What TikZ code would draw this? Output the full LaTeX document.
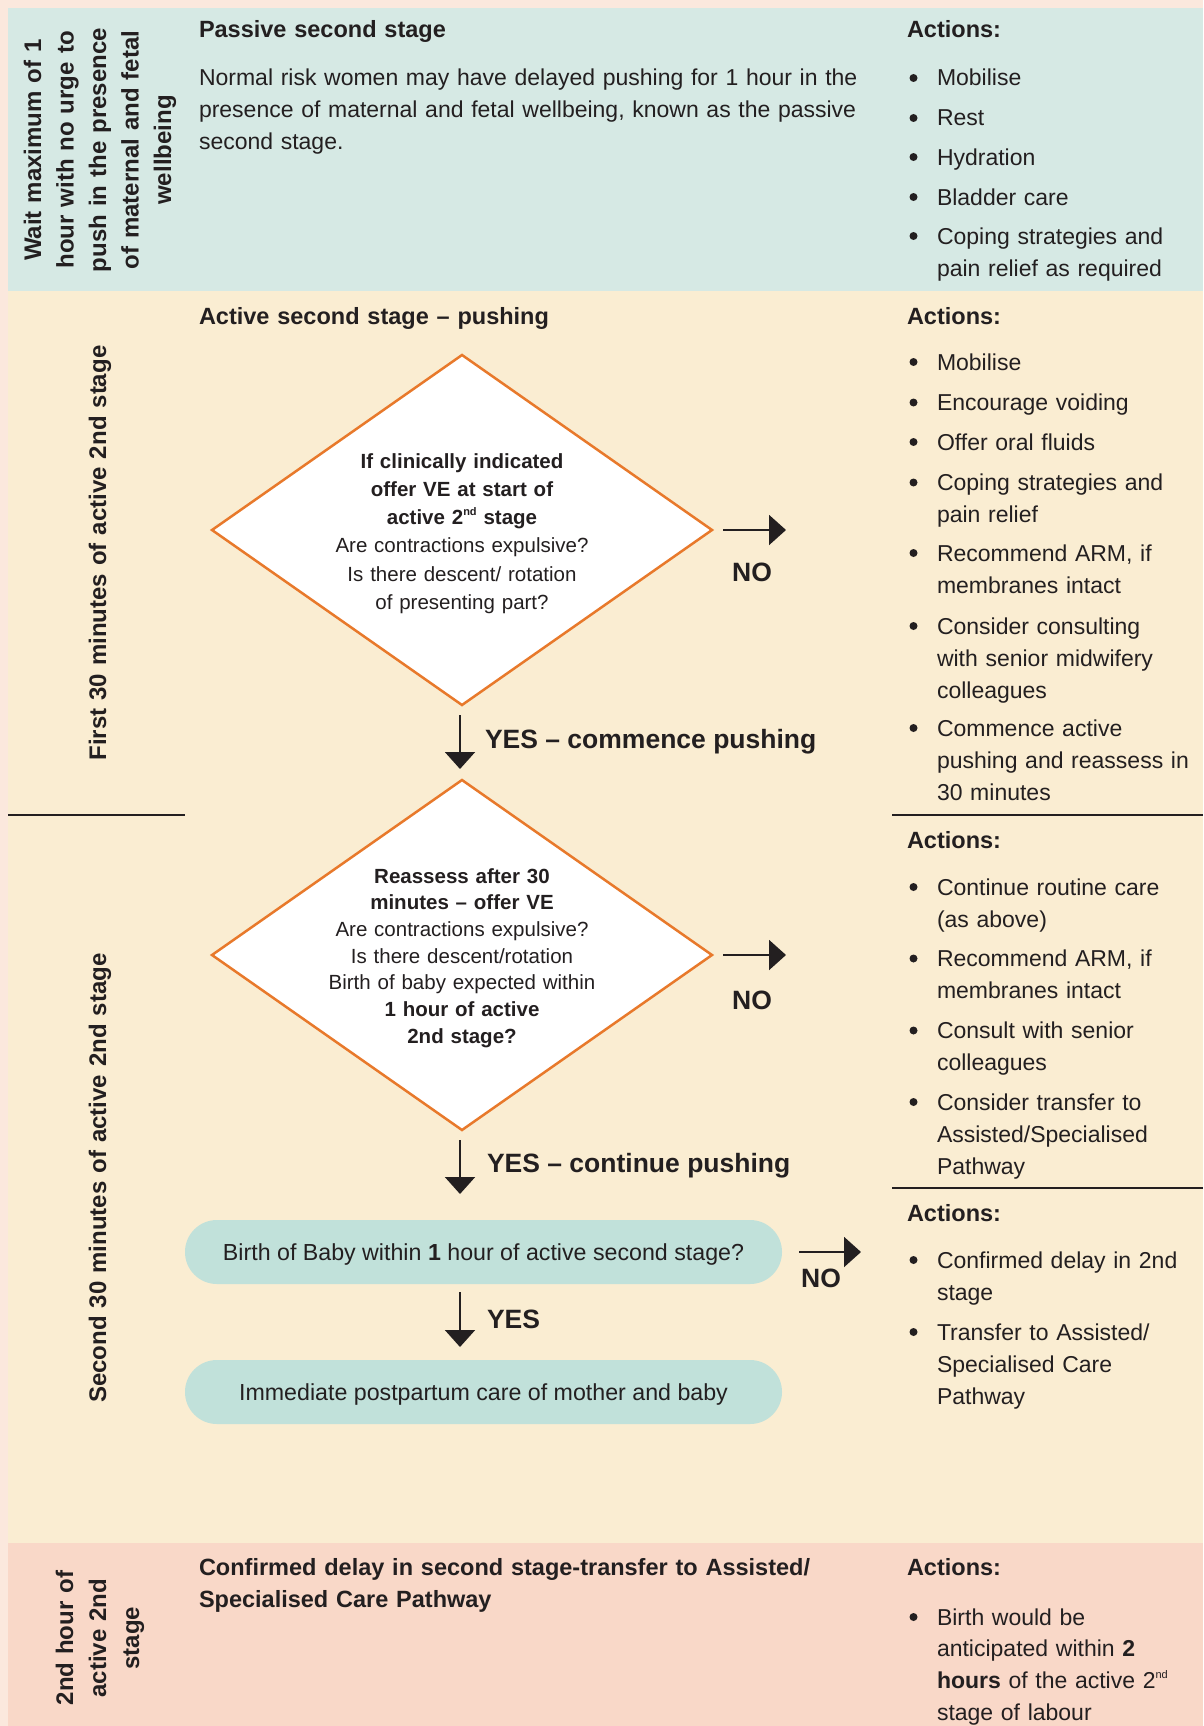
\documentclass[tikz,border=0pt]{standalone}
\usepackage{fontspec}
\setmainfont{Liberation Sans}
\usetikzlibrary{arrows.meta,shapes.geometric,calc}

\definecolor{pagebg}{HTML}{FBE8DD}
\definecolor{passivebg}{HTML}{D6E9E4}
\definecolor{activebg}{HTML}{FAEDD2}
\definecolor{delaybg}{HTML}{F9D8C8}
\definecolor{pillbg}{HTML}{C1E1DA}
\definecolor{diaorange}{HTML}{E8792B}
\definecolor{ink}{HTML}{231F20}

\hyphenpenalty=10000
\exhyphenpenalty=10000

% small raised ordinal suffix
\newcommand\upscript[1]{\raisebox{0.42em}{\fontsize{11}{11}\selectfont #1}}
% one bulleted action: name, baseline, text
\newcommand\actitem[3]{%
  \fill[ink] (913.5,#2-8) circle (4pt);
  \node[itemtext] (#1) at (937,#2) {#3};}

\begin{document}
\begin{tikzpicture}[x=1pt,y=-1pt,
  every node/.style={inner sep=0pt,outer sep=0pt,text=ink},
  bodytext/.style={anchor=base west,text width=#1,align=left,
    font=\fontsize{23}{32}\selectfont},
  bodytext/.default=720pt,
  itemtext/.style={bodytext=300pt},
  headtext/.style={anchor=base west,text width=#1,align=left,
    font=\bfseries\fontsize{23.5}{32}\selectfont},
  headtext/.default=700pt,
  sidelabel/.style={rotate=90,anchor=base,text width=#1,align=center,
    font=\bfseries\fontsize{24}{32.5}\selectfont},
  decisionbox/.style={diamond,draw=diaorange,line width=2.5pt,fill=white,
    minimum width=500pt,minimum height=350pt},
  decisiontext/.style={anchor=base,text width=320pt,align=center,
    font=\fontsize{20.5}{#1}\selectfont},
  pillbox/.style={fill=pillbg,rounded corners=31.9pt,minimum width=597pt,
    minimum height=64pt,text height=17pt,text depth=0pt,
    font=\fontsize{23.2}{28}\selectfont},
  flowlabel/.style={font=\bfseries\fontsize{26.5}{30}\selectfont},
  flowarrow/.style={draw=ink,line width=2pt,-{Triangle[width=30pt,length=17pt]}},
  divider/.style={draw=ink,line width=1.5pt}
]
% panels
\fill[pagebg] (0,0) rectangle (1203,1726);
\fill[passivebg] (8,8) rectangle (1203,291);
\fill[activebg] (8,291) rectangle (1203,1543);
\fill[delaybg] (8,1543) rectangle (1203,1726);
\useasboundingbox (0,0) rectangle (1203,1726);

% dividers
\draw[divider] (8,815) -- (185,815);
\draw[divider] (892,815) -- (1203,815);
\draw[divider] (892,1188) -- (1203,1188);

% side labels
\node[sidelabel=300pt] (lab1) at (41,150) {Wait maximum of 1\\hour with no urge to\\push in the presence\\of maternal and fetal\\wellbeing};
\node[sidelabel=460pt] (lab2) at (106,553) {First 30 minutes of active 2nd stage};
\node[sidelabel=500pt] (lab3) at (106,1178) {Second 30 minutes of active 2nd stage};
\node[sidelabel=200pt,font=\bfseries\fontsize{24}{33}\selectfont] (lab4) at (73,1638) {2nd hour of\\active 2nd\\stage};

% passive second stage
\node[headtext] (h1) at (199,38) {Passive second stage};
\node[bodytext] (p1) at (199,86) {Normal risk women may have delayed pushing for 1 hour in the\\presence of maternal and fetal wellbeing, known as the passive\\second stage.};
\node[headtext=200pt] (act1) at (907,38) {Actions:};
\actitem{a11}{86}{Mobilise}
\actitem{a12}{126}{Rest}
\actitem{a13}{165}{Hydration}
\actitem{a14}{205}{Bladder care}
\actitem{a15}{244}{Coping strategies and\\pain relief as required}

% active second stage
\node[headtext] (h2) at (199,324) {Active second stage – pushing};
\node[headtext=200pt] (act2) at (907,324) {Actions:};
\actitem{a21}{370}{Mobilise}
\actitem{a22}{410.5}{Encourage voiding}
\actitem{a23}{450}{Offer oral fluids}
\actitem{a24}{490.5}{Coping strategies and\\pain relief}
\actitem{a25}{561}{Recommend ARM, if\\membranes intact}
\actitem{a26}{634}{Consider consulting\\with senior midwifery\\colleagues}
\actitem{a27}{736}{Commence active\\pushing and reassess in\\30 minutes}

\node[headtext=200pt] (act3) at (907,848) {Actions:};
\actitem{a31}{895}{Continue routine care\\(as above)}
\actitem{a32}{966.5}{Recommend ARM, if\\membranes intact}
\actitem{a33}{1038.5}{Consult with senior\\colleagues}
\actitem{a34}{1110}{Consider transfer to\\Assisted/Specialised\\Pathway}

\node[headtext=200pt] (act4) at (907,1221) {Actions:};
\actitem{a41}{1268}{Confirmed delay in 2nd\\stage}
\actitem{a42}{1340}{Transfer to Assisted/\\Specialised Care\\Pathway}

% decisions
\node[decisionbox] (d1) at (462,530) {};
\node[decisiontext=28.3] (d1t) at (462,468) {\textbf{If clinically indicated}\\\textbf{offer VE at start of}\\\textbf{active 2\upscript{nd} stage}\\Are contractions expulsive?\\Is there descent/ rotation\\of presenting part?};

\node[decisionbox] (d2) at (462,955) {};
\node[decisiontext=26.7] (d2t) at (462,883) {\textbf{Reassess after 30}\\\textbf{minutes – offer VE}\\Are contractions expulsive?\\Is there descent/rotation\\Birth of baby expected within\\\textbf{1 hour of active}\\\textbf{2nd stage?}};

\node[pillbox] (b1) at (483.5,1252) {Birth of Baby within \textbf{1} hour of active second stage?};
\node[pillbox] (b2) at (483.5,1392) {Immediate postpartum care of mother and baby};

% connectors
\draw[flowarrow] ([xshift=11pt]d1.east) -- ([xshift=74pt]d1.east);
\draw[flowarrow] ([xshift=-2pt,yshift=-10pt]d1.south) -- ([xshift=-2pt,yshift=11pt]d2.north);
\draw[flowarrow] ([xshift=11pt]d2.east) -- ([xshift=74pt]d2.east);
\draw[flowarrow] ([xshift=-2pt,yshift=-10pt]d2.south) -- ($(d2.south |- b1.north)+(-2,-26)$);
\draw[flowarrow] ([xshift=17pt]b1.east) -- ([xshift=79pt]b1.east);
\draw[flowarrow] ($(d2.south |- b1.south)+(-2,8)$) -- ($(d2.south |- b2.north)+(-2,-13)$);

\node[flowlabel,anchor=base] (no1) at (752,581) {NO};
\node[flowlabel,anchor=base west] (yes1) at (485,748) {YES – commence pushing};
\node[flowlabel,anchor=base] (no2) at (752,1009) {NO};
\node[flowlabel,anchor=base west] (yes2) at (487,1172) {YES – continue pushing};
\node[flowlabel,anchor=base] (no3) at (821,1287) {NO};
\node[flowlabel,anchor=base west] (yes3) at (487,1328) {YES};

% confirmed delay
\node[headtext] (h3) at (199,1575) {Confirmed delay in second stage-transfer to Assisted/\\Specialised Care Pathway};
\node[headtext=200pt] (act5) at (907,1575) {Actions:};
\fill[ink] (913.5,1617) circle (4pt);
\node[bodytext=300pt,font=\fontsize{23}{31.7}\selectfont] (a51) at (937,1625) {Birth would be\\anticipated within \textbf{2}\\\textbf{hours} of the active 2\upscript{nd}\\stage of labour};
\end{tikzpicture}
\end{document}
